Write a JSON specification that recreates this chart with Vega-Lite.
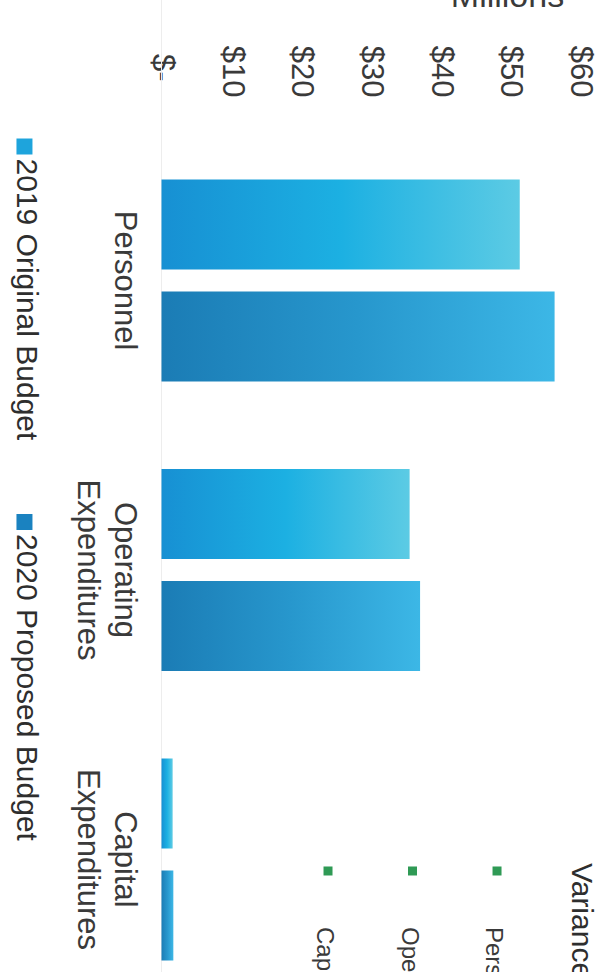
{
  "$schema": "https://vega.github.io/schema/vega-lite/v6.json",
  "width": 613,
  "height": 972,
  "autosize": {"type": "none"},
  "padding": 0,
  "background": "#ffffff",
  "config": {"font": "Liberation Sans", "view": {"stroke": null}},
  "datasets": {
    "budget": [
      {"category": "Personnel", "year": "2019", "amount": 51.4},
      {"category": "Personnel", "year": "2020", "amount": 56.4},
      {"category": "Operating Expenditures", "year": "2019", "amount": 35.6},
      {"category": "Operating Expenditures", "year": "2020", "amount": 37.1},
      {"category": "Capital Expenditures", "year": "2019", "amount": 1.6},
      {"category": "Capital Expenditures", "year": "2020", "amount": 1.7}
    ],
    "baseline": [{"amount": 0}],
    "legend": [{"series": "2019 Original Budget"}, {"series": "2020 Proposed Budget"}],
    "variance": [{"item": "Personnel"}, {"item": "Operating Expenditures"}, {"item": "Capital Expenditures"}],
    "varianceTitle": [{"title": "Variance"}]
  },
  "layer": [
    {
      "data": {"name": "baseline"},
      "mark": {"type": "rule", "color": "#ededed", "strokeWidth": 1},
      "encoding": {
        "x": {"field": "amount", "type": "quantitative", "scale": {"domain": [-23.17, 64.78], "nice": false, "zero": false}, "axis": null}
      }
    },
    {
      "data": {"name": "budget"},
      "encoding": {
        "x": {
          "field": "amount", "type": "quantitative",
          "scale": {"domain": [-23.17, 64.78], "nice": false, "zero": false},
          "axis": {
            "orient": "top", "offset": -97, "values": [0, 10, 20, 30, 40, 50, 60],
            "labelExpr": "datum.value == 0 ? '$-' : '$' + datum.value",
            "labelAngle": 90, "labelAlign": "right", "labelBaseline": "middle",
            "labelPadding": {"condition": {"test": "datum.value == 0", "value": 16}, "value": 0},
            "ticks": false, "tickSize": 0, "domain": false, "grid": false,
            "labelFontSize": 31, "labelColor": "#3a3a3a", "labelOverlap": false, "labelFlush": false,
            "title": "Millions", "titleFontSize": 34, "titleFontWeight": "normal", "titleColor": "#3a3a3a",
            "titleAngle": 0, "titleX": 507, "titleY": -91, "titleAlign": "center", "titleBaseline": "alphabetic"
          }
        },
        "y": {
          "field": "category", "type": "nominal",
          "scale": {"type": "band", "domain": ["Personnel", "Operating Expenditures", "Capital Expenditures"], "paddingInner": 0.302, "paddingOuter": 0.3299, "align": 0.9398},
          "axis": {
            "orient": "left", "offset": -138.5, "title": null,
            "labelExpr": "split(datum.label, ' ')",
            "labelAngle": 90, "labelAlign": "center", "labelBaseline": "top",
            "labelPadding": 0, "ticks": false, "tickSize": 0, "domain": false, "grid": false,
            "labelFontSize": 31, "labelLineHeight": 37, "labelLimit": 0, "labelColor": "#3a3a3a"
          }
        },
        "yOffset": {"field": "year", "type": "nominal", "scale": {"domain": ["2019", "2020"], "paddingInner": 0.196, "paddingOuter": 0}}
      },
      "layer": [
        {
          "transform": [{"filter": "datum.year == '2019'"}],
          "mark": {"type": "bar", "color": {"gradient": "linear", "stops": [{"offset": 0, "color": "#1790d3"}, {"offset": 0.5, "color": "#1cb0e2"}, {"offset": 1, "color": "#5ccbe4"}]}}
        },
        {
          "transform": [{"filter": "datum.year == '2020'"}],
          "mark": {"type": "bar", "color": {"gradient": "linear", "stops": [{"offset": 0, "color": "#1b7cb5"}, {"offset": 0.5, "color": "#2797cd"}, {"offset": 1, "color": "#3cb7e6"}]}}
        }
      ]
    },
    {
      "data": {"name": "legend"},
      "encoding": {
        "x": {"datum": -19.66, "type": "quantitative", "scale": {"domain": [-23.17, 64.78], "nice": false, "zero": false}, "axis": null},
        "y": {"field": "series", "type": "nominal", "scale": {"type": "point", "domain": ["2019 Original Budget", "2020 Proposed Budget"], "padding": 0.7943, "align": 0.2456}, "axis": null}
      },
      "layer": [
        {
          "mark": {"type": "square", "size": 256, "filled": true, "opacity": 1},
          "encoding": {"color": {"field": "series", "type": "nominal", "scale": {"domain": ["2019 Original Budget", "2020 Proposed Budget"], "range": ["#1ea4dc", "#1a82c0"]}, "legend": null}}
        },
        {
          "mark": {"type": "text", "angle": 90, "align": "left", "baseline": "alphabetic", "fontSize": 30, "dx": 12, "dy": 7.5, "color": "#2e2e2e"},
          "encoding": {"text": {"field": "series"}}
        }
      ]
    },
    {
      "encoding": {
        "x": {"field": "item", "type": "nominal", "scale": {"type": "point", "domain": ["", " ", "  ", "Capital Expenditures", "Operating Expenditures", "Personnel", "Variance"], "padding": 0.627, "align": 0.703}, "axis": null},
        "y": {"datum": "Capital Expenditures", "type": "nominal", "bandPosition": 0.557, "scale": {"type": "band", "domain": ["Personnel", "Operating Expenditures", "Capital Expenditures"], "paddingInner": 0.302, "paddingOuter": 0.3299, "align": 0.9398}, "axis": null}
      },
      "layer": [
        {
          "data": {"name": "variance"},
          "mark": {"type": "square", "size": 81, "filled": true, "opacity": 1, "color": "#2f9a55"}
        },
        {
          "data": {"name": "variance"},
          "mark": {"type": "text", "angle": 90, "align": "left", "baseline": "alphabetic", "fontSize": 24, "dy": 11, "color": "#3a3a3a"},
          "encoding": {
            "text": {"field": "item"},
            "y": {"datum": "Capital Expenditures", "type": "nominal", "bandPosition": 0.834}
          }
        },
        {
          "data": {"name": "varianceTitle"},
          "mark": {"type": "text", "angle": 90, "align": "left", "baseline": "alphabetic", "fontSize": 30, "dy": 9.5, "color": "#2e2e2e"},
          "encoding": {
            "text": {"field": "title"},
            "x": {"datum": "Variance", "type": "nominal"},
            "y": {"datum": "Capital Expenditures", "type": "nominal", "bandPosition": 0.517}
          }
        }
      ]
    }
  ],
  "resolve": {"scale": {"x": "independent", "y": "independent", "color": "independent"}}
}
